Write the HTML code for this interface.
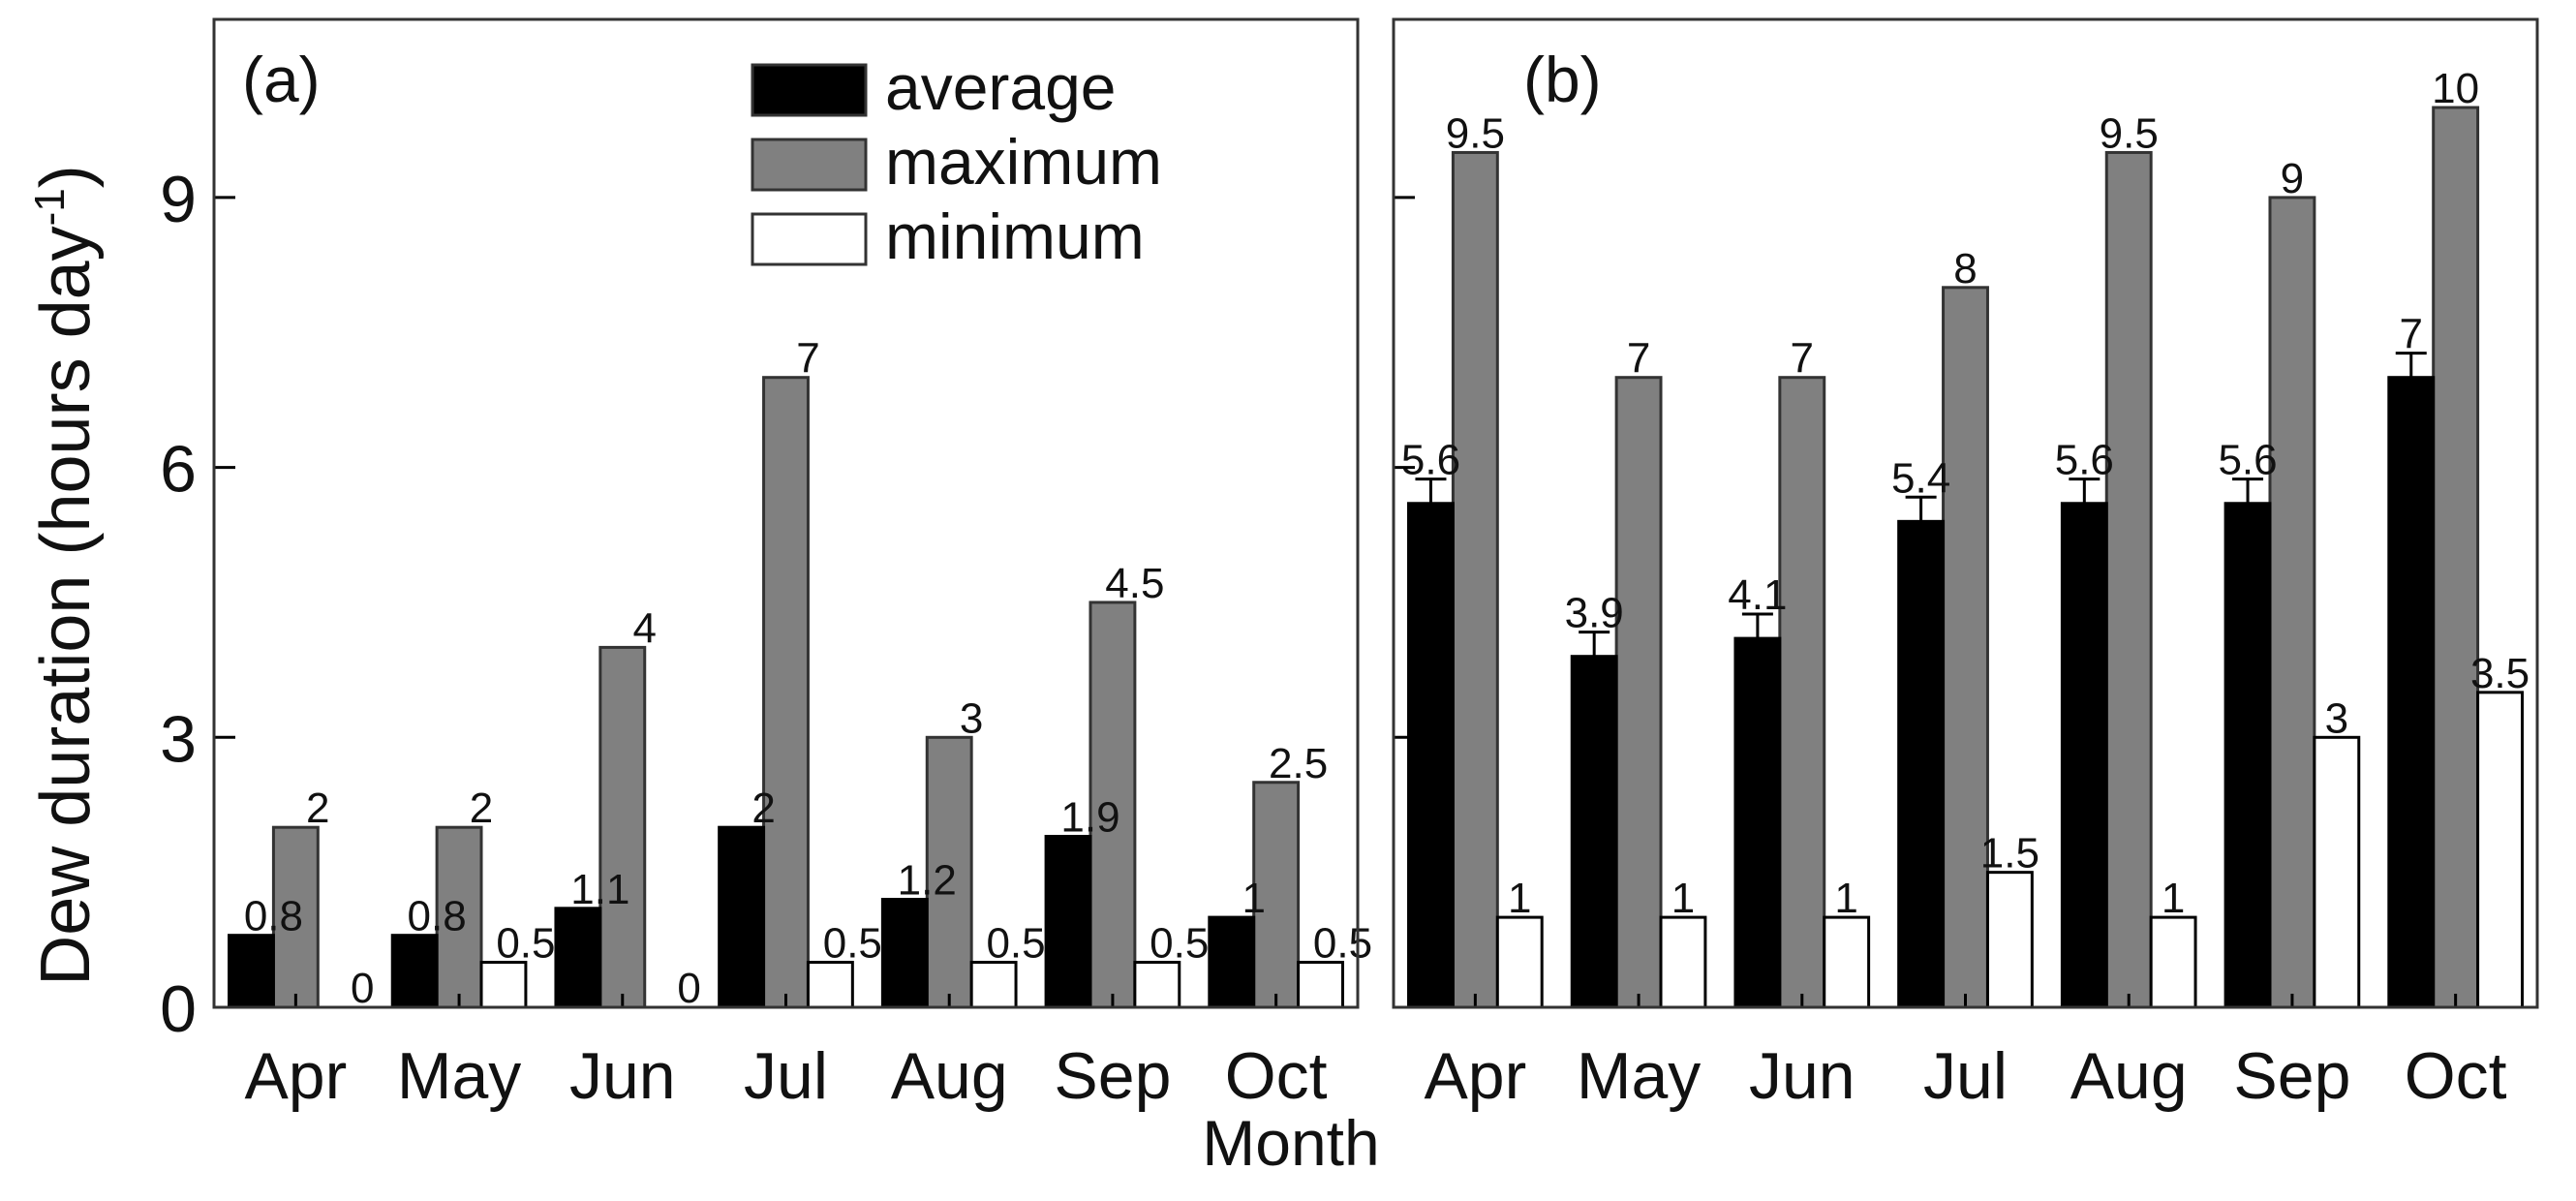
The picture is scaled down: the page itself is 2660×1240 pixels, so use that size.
<!DOCTYPE html>
<html><head><meta charset="utf-8"><style>
html,body{margin:0;padding:0;background:#fff;}
svg{display:block;font-family:"Liberation Sans",Arial,sans-serif;}
</style></head><body>
<svg id="chart" width="2660" height="1240" viewBox="0 0 2660 1240"></svg>
<script>
const months = ["Apr","May","Jun","Jul","Aug","Sep","Oct"];
const avgA = [0.8,0.8,1.1,2,1.2,1.9,1];
const maxA = [2,2,4,7,3,4.5,2.5];
const minA = [0,0.5,0,0.5,0.5,0.5,0.5];
const avgB = [5.6,3.9,4.1,5.4,5.6,5.6,7];
const errB = [0.27,0.27,0.27,0.27,0.27,0.27,0.27];
const maxB = [9.5,7,7,8,9.5,9,10];
const minB = [1,1,1,1.5,1,3,3.5];
const yTicks = [0,3,6,9];
const yTickLabels = ["0","3","6","9"];

const NS="http://www.w3.org/2000/svg";
const svg=document.getElementById('chart');
function mk(tag,attrs,parent){const e=document.createElementNS(NS,tag);for(const k in attrs)e.setAttribute(k,attrs[k]);(parent||svg).appendChild(e);return e;}
const Y0=1040, PU=92.9, TOP=20;
function yS(v){return Y0-v*PU;}

function panel(left,right,avg,mx,mn,err,tag,labelMode,showYLabels){
  const g=mk('g',{});
  
  
  const W=right-left, gw=W/7, bw=gw*0.272;
  function xC(i){return left+(i+0.5)*gw;}
  const series=[{d:mx,fill:'#808080',name:'maximum',off:0},{d:avg,fill:'#000',name:'average',off:-1},{d:mn,fill:'#fff',name:'minimum',off:1}];
  months.forEach((m,i)=>{
    series.forEach(s=>{
      const v=s.d[i]; const x=xC(i)+s.off*bw-bw/2;
      const r=mk('rect',{x:x,y:yS(v),width:bw,height:v*PU,fill:s.fill,stroke:s.name==='maximum'?'#333':'#000','stroke-width':3},g);
      
      
      let top=v; if(s.name==='average'&&err) {
        const ex=x+bw/2, et=yS(v+err[i]);
        const el=mk('path',{d:`M${ex},${yS(v)}V${et}M${ex-16},${et}H${ex+16}`,stroke:'#000','stroke-width':3,fill:'none'},g);
        
        
        top=v+err[i];
      }
      const t=mk('text',{x:labelMode==='right'?x+bw:x+bw/2,y:yS(top)-5,'font-size':44,'text-anchor':'middle',fill:'#111'},g);
      t.textContent=String(v);
      
      
    });
    const tk=mk('line',{x1:xC(i),x2:xC(i),y1:Y0,y2:Y0-14,stroke:'#000','stroke-width':3},g);
    
    
    const ml=mk('text',{x:xC(i),y:1134,'font-size':68,'text-anchor':'middle',fill:'#111'},g);
    ml.textContent=m;
    
    
  });
  yTicks.forEach((v,k)=>{
    const tl=mk('line',{x1:left,x2:left+22,y1:yS(v),y2:yS(v),stroke:'#000','stroke-width':3},g);
    
    
    if(showYLabels){
      const t=mk('text',{x:left-18,y:yS(v)+25,'font-size':68,'text-anchor':'end',fill:'#111'},g);
      t.textContent=yTickLabels[k];
      
      
    }
  });
  const fr=mk('rect',{x:left,y:TOP,width:W,height:Y0-TOP,fill:'none',stroke:'#333','stroke-width':3},g);
  
  
  return g;
}
panel(221,1402,avgA,maxA,minA,null,'a','right',true);
panel(1439,2620,avgB,maxB,minB,errB,'b','center',false);

function txt(x,y,s,size,name,extra){const t=mk('text',Object.assign({x:x,y:y,'font-size':size,fill:'#111'},extra||{}));t.textContent=s;return t;}
txt(250,105,'(a)',66,'panel-label-a');
txt(1573,105,'(b)',66,'panel-label-b');
txt(1333,1203,'Month',66,'x-axis-title',{'text-anchor':'middle'});
const yt=mk('text',{x:0,y:0,'font-size':72,'text-anchor':'middle',fill:'#111',transform:'translate(92,594) rotate(-90)'});


yt.innerHTML='Dew duration (hours day<tspan dy="-26" font-size="44">-1</tspan><tspan dy="26">)</tspan>';

const legend=[['average','#000'],['maximum','#808080'],['minimum','#fff']];
legend.forEach((l,i)=>{
  const cy=93+i*77;
  const r=mk('rect',{x:777,y:cy-26,width:117,height:52,fill:l[1],stroke:'#333','stroke-width':3});
  
  
  txt(914,cy+20,l[0],66,'legend-entry-'+l[0]);
});
</script>
</body></html>
